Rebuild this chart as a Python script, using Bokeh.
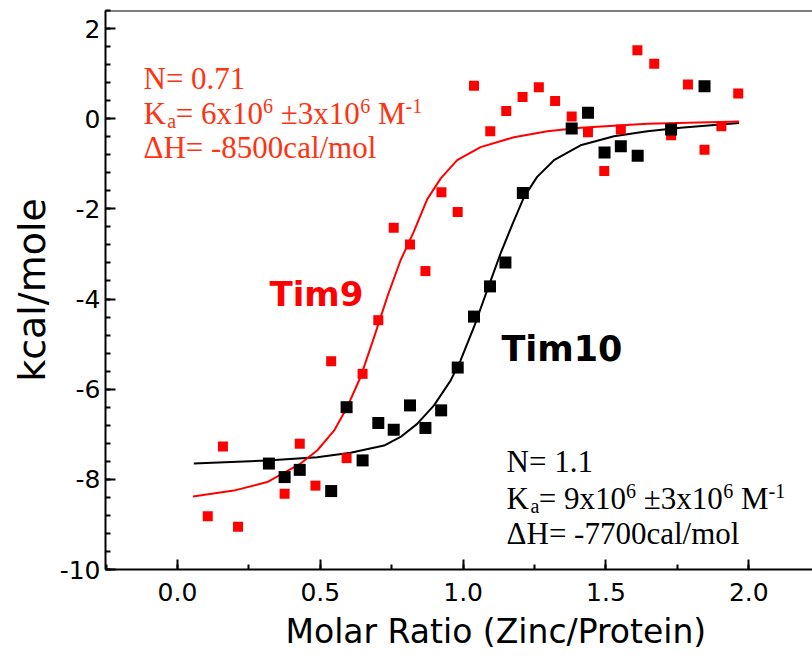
from bokeh.plotting import figure
from bokeh.models import Range1d, SingleIntervalTicker, PrintfTickFormatter, Label, Span, Title
from bokeh.embed import file_html
from bokeh.resources import INLINE

# ---------------- data ----------------
tim9_x = [0.106, 0.159, 0.212, 0.375, 0.428, 0.483, 0.538, 0.592, 0.648, 0.703,
          0.757, 0.814, 0.868, 0.924, 0.981, 1.038, 1.095, 1.151, 1.208, 1.265,
          1.322, 1.380, 1.437, 1.494, 1.552, 1.610, 1.669, 1.728, 1.787, 1.845,
          1.904, 1.963]
tim9_y = [-8.82, -7.27, -9.05, -8.32, -7.21, -8.14, -5.38, -7.53, -5.66, -4.47,
          -2.42, -2.79, -3.38, -1.63, -2.07, 0.73, -0.28, 0.17, 0.48, 0.70,
          0.39, 0.05, -0.30, -1.16, -0.24, 1.52, 1.22, -0.37, 0.76, -0.69,
          -0.17, 0.56]

tim10_x = [0.320, 0.375, 0.428, 0.538, 0.592, 0.648, 0.703, 0.757, 0.814, 0.868,
           0.923, 0.981, 1.038, 1.094, 1.148, 1.209, 1.380, 1.437, 1.495, 1.552,
           1.611, 1.728, 1.845]
tim10_y = [-7.65, -7.95, -7.79, -8.26, -6.40, -7.58, -6.75, -6.90, -6.36, -6.86,
           -6.47, -5.52, -4.39, -3.72, -3.19, -1.65, -0.22, 0.13, -0.75, -0.61,
           -0.82, -0.24, 0.72]

fit9_x = [0.054, 0.197, 0.314, 0.431, 0.489, 0.548, 0.594, 0.641, 0.688, 0.734,
          0.781, 0.827, 0.874, 0.921, 0.979, 1.061, 1.178, 1.295, 1.411, 1.645, 1.966]
fit9_y = [-8.38, -8.25, -8.06, -7.65, -7.36, -6.92, -6.40, -5.73, -4.85, -3.96,
          -3.14, -2.51, -1.79, -1.33, -0.92, -0.63, -0.41, -0.28, -0.20, -0.11, -0.06]

fit10_x = [0.057, 0.314, 0.489, 0.606, 0.723, 0.781, 0.839, 0.898, 0.956, 0.991,
           1.038, 1.084, 1.131, 1.172, 1.213, 1.259, 1.318, 1.411, 1.528, 1.645,
           1.761, 1.966]
fit10_y = [-7.65, -7.58, -7.51, -7.41, -7.25, -7.06, -6.77, -6.36, -5.81, -5.36,
           -4.62, -3.81, -2.99, -2.35, -1.74, -1.29, -0.92, -0.59, -0.39, -0.28,
           -0.20, -0.095]

x_label = "Molar Ratio (Zinc/Protein)"
y_label = "kcal/mole"

# ---------------- figure ----------------
W, H = 812, 663
X0, X1 = -0.252, 2.223
Y0, Y1 = -10.0, 2.4
MB_L, MB_T, MB_B = 105, 10, 94
FRAME_H = H - MB_T - MB_B
PX_PER_Y = FRAME_H / (Y1 - Y0)

p = figure(width=W, height=H, output_backend="svg", toolbar_location=None,
           x_range=Range1d(X0, X1), y_range=Range1d(Y0, Y1))
p.min_border_left = MB_L
p.min_border_right = 0
p.min_border_top = MB_T
p.min_border_bottom = MB_B
p.grid.visible = False
p.outline_line_color = None
p.background_fill_color = "white"
p.border_fill_color = "white"

SANS = "DejaVu Sans"

xa = p.xaxis[0]
xa.ticker = SingleIntervalTicker(interval=0.5, num_minor_ticks=2)
xa.formatter = PrintfTickFormatter(format="%.1f")
ya = p.yaxis[0]
ya.ticker = SingleIntervalTicker(interval=2, num_minor_ticks=5)
ya.formatter = PrintfTickFormatter(format="%d")

for ax in (xa, ya):
    ax.axis_line_width = 2
    ax.axis_line_color = "black"
    ax.major_tick_in = 10
    ax.major_tick_out = 0
    ax.minor_tick_in = 5
    ax.minor_tick_out = 0
    ax.major_tick_line_width = 2
    ax.minor_tick_line_width = 2
    ax.major_tick_line_color = "black"
    ax.minor_tick_line_color = "black"
    ax.major_label_text_font = SANS
    ax.major_label_text_font_size = "25px"
    ax.major_label_text_color = "black"
    ax.axis_label_text_font = SANS
    ax.axis_label_text_font_style = "normal"
    ax.axis_label_text_color = "black"

xa.major_label_standoff = 13

ya.axis_label = y_label
ya.axis_label_text_font_size = "38px"
ya.major_label_standoff = 5
ya.axis_label_standoff = 3

# x-axis title: a below-panel Title so it can sit off-centre like the reference
p.add_layout(Title(text=x_label, align="left", offset=180, standoff=12,
                   text_font=SANS, text_font_size="33px", text_font_style="normal",
                   text_color="black"), "below")

# top border of the frame
p.add_layout(Span(location=Y1, dimension="width", line_color="black", line_width=2))

# ---------------- curves and points ----------------
RED = "#ff0000"
p.line(fit10_x, fit10_y, line_color="black", line_width=2)
p.line(fit9_x, fit9_y, line_color=RED, line_width=2)
p.scatter(tim9_x, tim9_y, marker="square", size=10, fill_color=RED, line_color=None)
p.scatter(tim10_x, tim10_y, marker="square", size=12, fill_color="black", line_color=None)

# ---------------- annotations ----------------
SERIF = "Liberation Serif"
F, S = 31, 20


def seq_width(t):
    w = {"=": 0.564, " ": 0.25, "±": 0.564, "x": 0.5, "M": 0.889, "K": 0.722,
         "a": 0.444, "-": 0.333}
    return sum(w.get(c, 0.5) for c in t)


def add(x, y, text, size, color, dx=0.0, dy_px=0.0, font=SERIF, style="normal",
        align="left"):
    p.add_layout(Label(x=x, y=y + dy_px / PX_PER_Y, x_offset=dx, text=text,
                       text_font=font, text_font_size=f"{size}px", text_color=color,
                       text_font_style=style, text_align=align,
                       text_baseline="alphabetic"))


def ka_line(x, y, mant, color):
    # (text, size, vertical shift px, extra gap px before)
    segs = [("K", F, 0, 0), ("a", S, -7.5, 1.5), ("=", F, 0, -0.5),
            (" %sx10" % mant, F, 0, 0), ("6", S, 7.5, 0),
            (" ±3x10", F, 0, 0), ("6", S, 7.5, 0), (" M", F, 0, 0), ("-1", S, 7.5, 0)]
    dx = 0.0
    for t, sz, raise_px, gap in segs:
        dx += gap
        lead = len(t) - len(t.lstrip(" "))
        dx += lead * 0.25 * sz
        body = t.lstrip(" ")
        add(x, y, body, sz, color, dx=dx, dy_px=raise_px)
        dx += seq_width(body) * sz


ORANGE = "#ff3311"
rx = -0.119
add(rx, 0.896, "N= 0.71", F, ORANGE)
ka_line(rx, 0.12, "6", ORANGE)
add(rx, -0.63, "ΔH= -8500cal/mol", F, ORANGE)

bx = 1.152
add(bx, -7.615, "N= 1.1", F, "black")
ka_line(bx, -8.427, "9", "black")
add(bx, -9.204, "ΔH= -7700cal/mol", F, "black")

add(0.322, -3.895, "Tim9", 34, RED, font=SANS, style="bold")
add(1.134, -5.10, "Tim10", 35, "black", font=SANS, style="bold")

open("out.html", "w").write(file_html(p, INLINE))
